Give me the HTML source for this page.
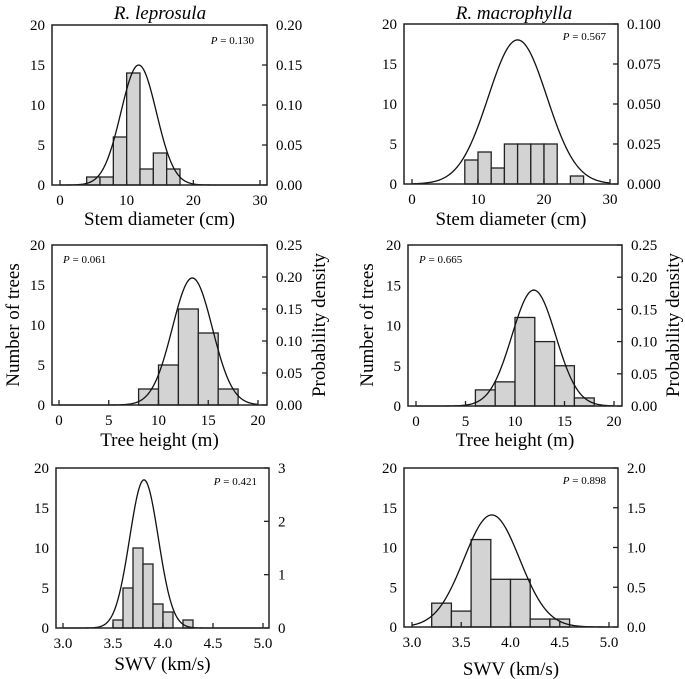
<!DOCTYPE html>
<html><head><meta charset="utf-8">
<style>
body{margin:0;background:#fff;}
svg{display:block;font-family:"Liberation Serif",serif;}
</style></head>
<body>
<svg id="chart" width="685" height="679" viewBox="0 0 685 679" xmlns="http://www.w3.org/2000/svg">
<text x="160" y="19" font-size="19" font-style="italic" text-anchor="middle">R. leprosula</text>
<text x="514" y="19" font-size="19" font-style="italic" text-anchor="middle">R. macrophylla</text>
<text transform="translate(19,325) rotate(-90)" font-size="19" text-anchor="middle">Number of trees</text>
<text transform="translate(325,325) rotate(-90)" font-size="19" text-anchor="middle">Probability density</text>
<text transform="translate(373,325) rotate(-90)" font-size="19" text-anchor="middle">Number of trees</text>
<text transform="translate(679,325) rotate(-90)" font-size="19" text-anchor="middle">Probability density</text>
</svg>
<script>
// Panel data (counts per bin, bin starts, normal fit params)
const binStartsA=[4,6,8,10,12,14,16];
const countsA=[1,1,6,14,2,4,2];
const fitA=[11.8,2.66];
const binStartsB=[8,10,12,14,16];
const countsB=[2,5,12,9,2];
const fitB=[13.4,2.01];
const binStartsC=[3.5,3.6,3.7,3.8,3.9,4.0,4.1,4.2];
const countsC=[1,5,10,8,3,2,0,1];
const fitC=[3.81,0.1436];
const binStartsD=[8,10,12,14,16,18,20,22,24];
const countsD=[3,4,2,5,5,5,5,0,1];
const fitD=[16,4.43];
const binStartsE=[6,8,10,12,14,16];
const countsE=[2,3,11,8,5,1];
const fitE=[11.9,2.216];
const binStartsF=[3.2,3.4,3.6,3.8,4.0,4.2,4.4];
const countsF=[3,2,11,6,6,1,1];
const fitF=[3.81,0.283];
const leftTicks=["0","5","10","15","20"];
const rightTicksA=["0.00","0.05","0.10","0.15","0.20"];
const rightTicksB=["0.00","0.05","0.10","0.15","0.20","0.25"];
const rightTicksC=["0","1","2","3"];
const rightTicksD=["0.000","0.025","0.050","0.075","0.100"];
const rightTicksF=["0.0","0.5","1.0","1.5","2.0"];
const xTicksDiam=["0","10","20","30"];
const xTicksHeight=["0","5","10","15","20"];
const xTicksSWV=["3.0","3.5","4.0","4.5","5.0"];

const NS="http://www.w3.org/2000/svg";
const svg=document.getElementById('chart');
function mk(tag,attrs,parent){const e=document.createElementNS(NS,tag);for(const k in attrs)e.setAttribute(k,attrs[k]);(parent||svg).appendChild(e);return e;}

function panel(id,p){
  const g=mk('g',{});
  
  
  const xs=v=>p.x0+(v-p.xmin)/(p.xmax-p.xmin)*(p.x1-p.x0);
  const ys=v=>p.B-v/20*(p.B-p.T);
  p.starts.forEach((s,i)=>{
    if(p.counts[i]<=0)return;
    const r=mk('rect',{x:xs(s),y:ys(p.counts[i]),width:xs(s+p.bw)-xs(s),height:p.B-ys(p.counts[i]),fill:'#d3d3d3',stroke:'#222','stroke-width':1.3},g);
    
    
  });
  const rmax=parseFloat(p.rt[p.rt.length-1]);
  const [mu,sd]=p.fit;
  let d='';
  const n=200;
  for(let k=0;k<=n;k++){
    const v=p.xmin+(p.xmax-p.xmin)*k/n;
    const dens=Math.exp(-0.5*((v-mu)/sd)**2)/(sd*Math.sqrt(2*Math.PI));
    d+=(k?'L':'M')+xs(v).toFixed(2)+','+ys(dens/rmax*20).toFixed(2);
  }
  const c=mk('path',{d:d,fill:'none',stroke:'#111','stroke-width':1.3},g);
  
  
  const f=mk('rect',{x:p.L,y:p.T,width:p.R-p.L,height:p.B-p.T,fill:'none',stroke:'#222','stroke-width':1.5},g);
  
  
  leftTicks.forEach((t,i)=>{
    const y=ys(parseFloat(t));
    const tx=mk('text',{x:p.L-7,y:y+5,'font-size':15,'text-anchor':'end'},g);
    tx.textContent=t;
    
    
  });
  p.rt.forEach((t,i)=>{
    const y=p.B-parseFloat(t)/rmax*(p.B-p.T);
    mk('line',{x1:p.R-5,x2:p.R,y1:y,y2:y,stroke:'#222','stroke-width':1.3},g);
    const tx=mk('text',{x:p.R+9,y:y+5,'font-size':15},g);
    tx.textContent=t;
    
    
  });
  p.xt.forEach(t=>{
    const x=xs(parseFloat(t));
    mk('line',{x1:x,x2:x,y1:p.B,y2:p.B-5,stroke:'#222','stroke-width':1.3},g);
    const tx=mk('text',{x:x,y:p.B+20,'font-size':15,'text-anchor':'middle'},g);
    tx.textContent=t;
    
    
  });
  const xt=mk('text',{x:(p.L+p.R)/2,y:p.xtY,'font-size':19,'text-anchor':'middle'},g);
  xt.textContent=p.xtitle;
  
  
  const pt=mk('text',{x:p.px,y:p.py,'font-size':11,'text-anchor':p.pa},g);
  pt.innerHTML='<tspan font-style="italic">P</tspan> = '+p.pv;
  
  
}

panel('a',{L:52,R:267,T:25,B:185,x0:60,x1:260,xmin:0,xmax:30,starts:binStartsA,counts:countsA,bw:2,fit:fitA,rt:rightTicksA,xt:xTicksDiam,xtitle:'Stem diameter (cm)',xtY:225,px:254,py:44,pa:'end',pv:'0.130'});
panel('b',{L:52,R:267,T:245,B:405,x0:59,x1:258,xmin:0,xmax:20,starts:binStartsB,counts:countsB,bw:2,fit:fitB,rt:rightTicksB,xt:xTicksHeight,xtitle:'Tree height (m)',xtY:446,px:63,py:263,pa:'start',pv:'0.061'});
panel('c',{L:56,R:269,T:468,B:628,x0:63,x1:263,xmin:3,xmax:5,starts:binStartsC,counts:countsC,bw:0.1,fit:fitC,rt:rightTicksC,xt:xTicksSWV,xtitle:'SWV (km/s)',xtY:670,px:257,py:485,pa:'end',pv:'0.421'});
panel('d',{L:404,R:618,T:24,B:184,x0:412,x1:610,xmin:0,xmax:30,starts:binStartsD,counts:countsD,bw:2,fit:fitD,rt:rightTicksD,xt:xTicksDiam,xtitle:'Stem diameter (cm)',xtY:225,px:606,py:40,pa:'end',pv:'0.567'});
panel('e',{L:408,R:622,T:245,B:406,x0:416,x1:614,xmin:0,xmax:20,starts:binStartsE,counts:countsE,bw:2,fit:fitE,rt:rightTicksB,xt:xTicksHeight,xtitle:'Tree height (m)',xtY:446,px:419,py:263,pa:'start',pv:'0.665'});
panel('f',{L:404,R:618,T:468,B:627,x0:412,x1:609,xmin:3,xmax:5,starts:binStartsF,counts:countsF,bw:0.2,fit:fitF,rt:rightTicksF,xt:xTicksSWV,xtitle:'SWV (km/s)',xtY:675,px:606,py:484,pa:'end',pv:'0.898'});
</script>
</body></html>
